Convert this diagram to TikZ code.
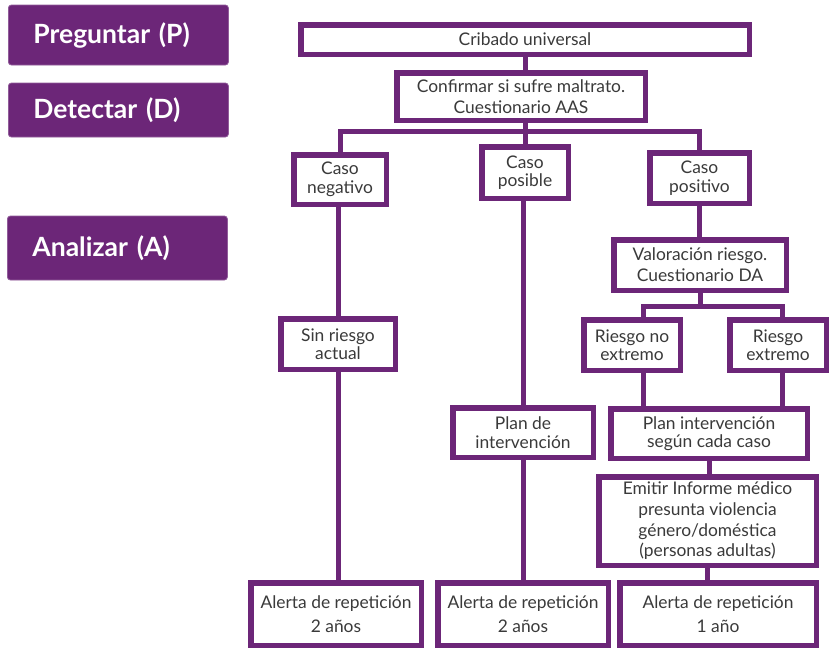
\documentclass[tikz,border=0pt]{standalone}
\usepackage{fontspec}
\setmainfont{Lato}
\definecolor{morado}{RGB}{108,38,120}
\definecolor{texto}{RGB}{58,58,58}

\begin{document}
\begin{tikzpicture}[x=1pt,y=-1pt,
  caja/.style={draw=morado, line width=5.5pt, fill=white, text=texto, align=center,
    inner sep=0pt, font=\fontsize{17.4}{18.5}\selectfont},
  fase/.style={fill=morado, draw=morado!75!white, line width=.8pt, rounded corners=3pt,
    text=white, anchor=west, inner xsep=25pt, inner ysep=0pt, text width=170pt,
    align=left, font=\fontsize{26.5}{30}\selectfont\bfseries},
  linea/.style={draw=morado, line width=5pt}]

\useasboundingbox (0,0) rectangle (829,649);

% PHASES
  \node[fase, minimum height=60] (preguntar) at (8,35)  {Preguntar (P)};
  \node[fase, minimum height=54] (detectar)  at (8,110) {Detectar (D)};
  \node[fase, minimum height=64] (analizar)  at (7,248) {Analizar (A)};

% TOP
  \node[caja, minimum width=448.5, minimum height=29.5] (cribado) at (525,39.5) {Cribado universal};
  \node[caja, minimum width=248.5, minimum height=47.5, font=\fontsize{17.4}{21}\selectfont]
    (confirmar) at (521,96.5) {Confirmar si sufre maltrato.\\Cuestionario AAS};

% CASES
  \node[caja, minimum width=92.5, minimum height=49.5] (negativo) at (340,179.5) {Caso\\negativo};
  \node[caja, minimum width=86.5, minimum height=51.5] (posible)  at (525,172.5) {Caso\\posible};
  \node[caja, minimum width=99.5, minimum height=50.5] (positivo) at (699.5,178) {Caso\\positivo};

% RISK
  \node[caja, minimum width=172.5, minimum height=50.5, font=\fontsize{17.4}{21}\selectfont]
    (valoracion) at (700,265) {Valoración riesgo.\\Cuestionario DA};
  \node[caja, minimum width=114.5, minimum height=50.5] (sinriesgo) at (338,344) {Sin riesgo\\actual};
  \node[caja, minimum width=96.5, minimum height=50.5] (noextremo) at (632,345) {Riesgo no\\extremo};
  \node[caja, minimum width=96.5, minimum height=50.5] (extremo)   at (778,345) {Riesgo\\extremo};

% INTERVENTION
  \node[caja, minimum width=140.5, minimum height=49.5] (plande)  at (523,432.5) {Plan de\\intervención};
  \node[caja, minimum width=196.5, minimum height=49.5] (planint) at (709,433.5) {Plan intervención\\según cada caso};
  \node[caja, minimum width=217.5, minimum height=88.5, font=\fontsize{17.4}{20.7}\selectfont]
    (emitir) at (707.5,521) {Emitir Informe médico\\presunta violencia\\género/doméstica\\(personas adultas)};

% ALERTS
  \node[caja, minimum width=170.5, minimum height=62.5] (alerta1) at (336,614) {Alerta de repetición\\[6pt]2 años};
  \node[caja, minimum width=170.5, minimum height=62.5] (alerta2) at (523,614) {Alerta de repetición\\[6pt]2 años};
  \node[caja, minimum width=196.5, minimum height=62.5] (alerta3) at (718,614) {Alerta de repetición\\[6pt]1 año};

% CONNECTORS
  \coordinate (rama1) at (525,131);
  \coordinate (rama2a) at (643,306);
  \coordinate (rama2b) at (782,306);

  \draw[linea] (posible.north |- cribado.south) -- (posible.north |- confirmar.north);
  \draw[linea] (posible.north |- confirmar.south) -- (posible.north);
  \draw[linea] (negativo.north) |- (rama1) -| (positivo.north);

  \draw[linea] (negativo.south -| sinriesgo.north) -- (sinriesgo.north);
  \draw[linea] (sinriesgo.south) -- (sinriesgo.south |- alerta1.north);

  \draw[linea] (posible.south -| plande.north) -- (plande.north);
  \draw[linea] (plande.south) -- (plande.south |- alerta2.north);

  \draw[linea] (positivo.south) -- (positivo.south |- valoracion.north);
  \draw[linea] (valoracion.south) -- (valoracion.south |- rama2a);
  \draw[linea] (rama2a |- noextremo.north) -- (rama2a) -- (rama2b) -- (rama2b |- extremo.north);
  \draw[linea] (rama2a |- noextremo.south) -- (rama2a |- planint.north);
  \draw[linea] (rama2b |- extremo.south) -- (rama2b |- planint.north);
  \draw[linea] (planint.south) -- (planint.south |- emitir.north);
  \draw[linea] (emitir.south) -- (emitir.south |- alerta3.north);
\end{tikzpicture}
\end{document}
